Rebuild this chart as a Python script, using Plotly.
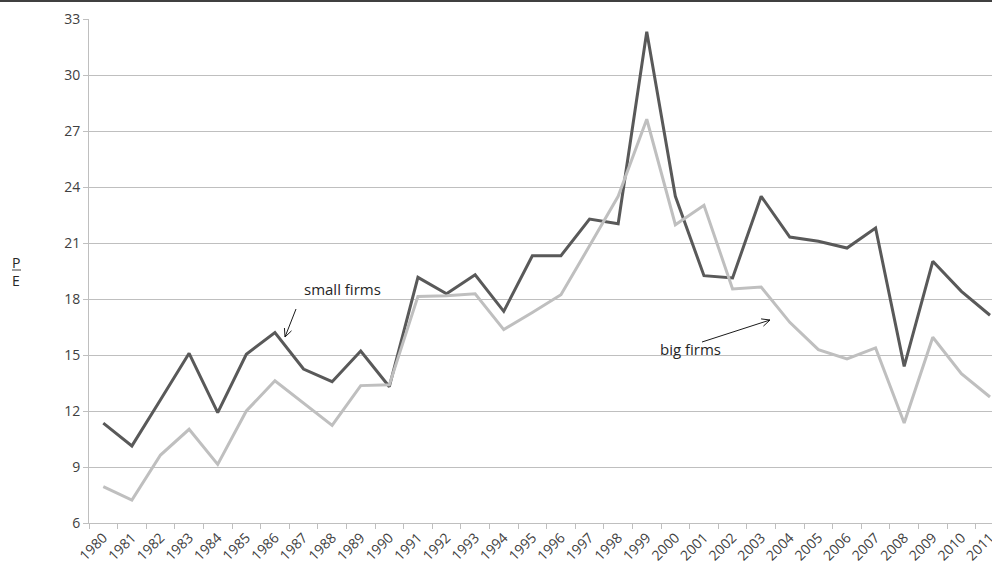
import math
import plotly.graph_objects as go

years = [str(y) for y in range(1980, 2012)]
small_firms = [11.35, 10.13, 12.6, 15.09, 11.91, 15.04, 16.2, 14.25, 13.57, 15.21,
               13.3, 19.16, 18.28, 19.3, 17.34, 20.32, 20.32, 22.28, 22.03, 32.32,
               23.5, 19.25, 19.13, 23.5, 21.32, 21.09, 20.73, 21.8, 14.39, 20.02,
               18.41, 17.13]
big_firms = [7.95, 7.23, 9.64, 11.02, 9.14, 12.0, 13.62, 12.43, 11.23, 13.36,
             13.4, 18.14, 18.18, 18.28, 16.36, 17.28, 18.23, 20.85, 23.5, 27.63,
             21.98, 23.02, 18.54, 18.64, 16.75, 15.29, 14.79, 15.38, 11.36, 15.95,
             14.0, 12.75]
y_ticks = list(range(6, 34, 3))

W, H = 992, 569
L, R, T, B = 89, 0, 19, 46
PW, PH = W - L - R, H - T - B


def px(x):
    return (x - L) / PW


def py(y):
    return (H - B - y) / PH


fig = go.Figure()
fig.add_trace(go.Scatter(x=years, y=small_firms, mode="lines", name="small firms",
                         line=dict(color="#595959", width=3)))
fig.add_trace(go.Scatter(x=years, y=big_firms, mode="lines", name="big firms",
                         line=dict(color="#bfbfbf", width=3)))

font_family = "Open Sans, Liberation Sans, sans-serif"


def arrow(tail, head, size=9, ang=25):
    (x0, y0), (x1, y1) = tail, head
    d = math.atan2(y0 - y1, x0 - x1)
    pts = []
    for s in (-1, 1):
        a = d + s * math.radians(ang)
        pts.append((x1 + size * math.cos(a), y1 + size * math.sin(a)))
    path = (f"M {px(x0)},{py(y0)} L {px(x1)},{py(y1)} "
            f"M {px(pts[0][0])},{py(pts[0][1])} L {px(x1)},{py(y1)} "
            f"L {px(pts[1][0])},{py(pts[1][1])}")
    return dict(type="path", xref="paper", yref="paper", path=path,
                line=dict(color="#1a1a1a", width=1))


shapes = [
    dict(type="line", xref="paper", yref="paper", x0=px(0), x1=px(W),
         y0=py(1), y1=py(1), line=dict(color="#404040", width=2)),
    dict(type="line", xref="paper", yref="paper", x0=px(12), x1=px(21),
         y0=py(270), y1=py(270), line=dict(color="#404040", width=1)),
    arrow((296, 309), (285, 337)),
    arrow((702, 342), (770, 320)),
]


def label(text, x, y, size):
    return dict(text=text, xref="paper", yref="paper", x=px(x), y=py(y),
                xanchor="center", yanchor="middle", showarrow=False,
                font=dict(size=size, color="#262626", family=font_family))


annotations = [
    label("small firms", 342, 289, 15),
    label("big firms", 690, 349, 15),
    label("P", 16, 262, 14),
    label("E", 16, 281, 14),
]

fig.update_layout(
    width=W, height=H,
    margin=dict(l=L, r=R, t=T, b=B, autoexpand=False),
    paper_bgcolor="white", plot_bgcolor="white",
    showlegend=False,
    shapes=shapes, annotations=annotations,
    font=dict(family=font_family, color="#404040"),
)
fig.update_xaxes(
    type="category", range=[-0.5, 31.07], automargin=False,
    tickson="boundaries", ticks="outside", ticklen=5, tickcolor="#bfbfbf",
    tickangle=-45, tickfont=dict(size=14, color="#404040"),
    showline=True, linecolor="#bfbfbf", linewidth=1,
    showgrid=False, zeroline=False,
)
fig.update_yaxes(
    range=[6, 33], tickvals=y_ticks, automargin=False,
    ticks="outside", ticklen=5, tickcolor="#bfbfbf",
    tickfont=dict(size=14, color="#404040"),
    showline=True, linecolor="#bfbfbf", linewidth=1,
    showgrid=True, gridcolor="#bfbfbf", gridwidth=1, zeroline=False,
)

fig.write_html("out.html",
               config={"displayModeBar": False, "staticPlot": True},
               post_script="document.body.style.margin='0';document.body.style.overflow='hidden';")
